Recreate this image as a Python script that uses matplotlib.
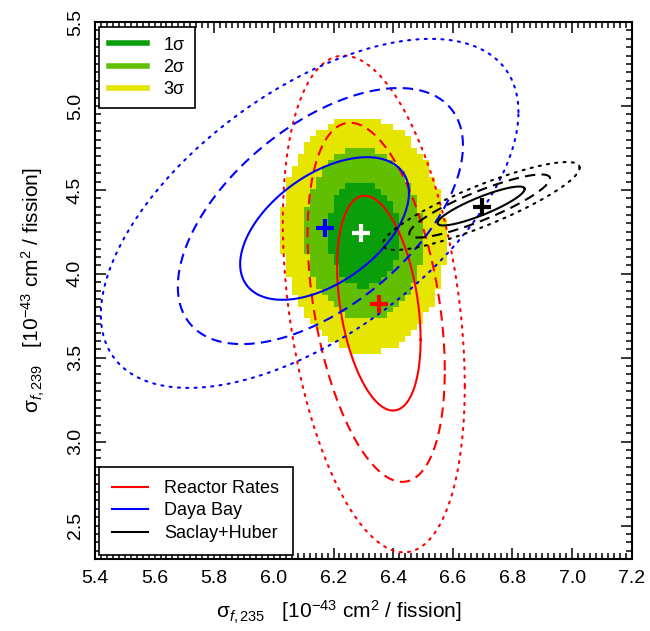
import numpy as np
import matplotlib as mpl
mpl.use('Agg')
import matplotlib.pyplot as plt
from matplotlib.colors import ListedColormap
from matplotlib.lines import Line2D

plt.rcParams['font.family'] = ['Liberation Sans', 'DejaVu Sans']
plt.rcParams['mathtext.fontset'] = 'custom'
plt.rcParams['mathtext.rm'] = 'Liberation Sans'
plt.rcParams['mathtext.it'] = 'Liberation Sans:italic'

# global fit (filled regions): centre, widths, correlation
fit_center = (6.30, 4.235)
fit_sigma = (0.080, 0.205)
fit_rho = -0.05
dchi2_levels = [2.30, 6.18, 11.83]
fill_colors = ['#0A9F0A', '#62BE00', '#E5E500']
fill_labels = ['1σ', '2σ', '3σ']

# contours per experiment: 1σ, 2σ, 3σ -> (x centre, y centre, x half extent, y half extent, correlation)
red_cx = [6.352, 6.343, 6.335]
red_cy = [3.825, 3.830, 3.820]
red_rx = [0.140, 0.230, 0.305]
red_ry = [0.640, 1.070, 1.480]
red_rho = [-0.34, -0.38, -0.33]

blue_cx = [6.170, 6.156, 6.120]
blue_cy = [4.270, 4.344, 4.360]
blue_rx = [0.283, 0.478, 0.700]
blue_ry = [0.425, 0.763, 1.040]
blue_rho = [0.50, 0.55, 0.58]

black_cx = [6.695, 6.690, 6.695]
black_cy = [4.404, 4.404, 4.404]
black_rx = [0.146, 0.236, 0.330]
black_ry = [0.116, 0.188, 0.262]
black_rho = [0.87, 0.87, 0.87]

best_fits = {'white': (6.292, 4.243), 'blue': (6.171, 4.273),
             'red': (6.352, 3.820), 'black': (6.697, 4.398)}

exp_labels = ['Reactor Rates', 'Daya Bay', 'Saclay+Huber']
exp_colors = ['red', 'blue', 'black']


def ellipse(cx, cy, rx, ry, rho, n=400):
    t = np.linspace(0, 2 * np.pi, n)
    x = cx + rx * np.cos(t)
    y = cy + ry * (rho * np.cos(t) + np.sqrt(1 - rho ** 2) * np.sin(t))
    return x, y


fig = plt.figure(figsize=(6.5, 6.31), dpi=100)
ax = fig.add_axes([0.146, 0.114, 0.826, 0.851])

# pixelated global fit regions
xe = np.arange(5.80, 6.80001, 0.02)
ye = np.arange(3.00, 5.50001, 0.035)
xc = 0.5 * (xe[1:] + xe[:-1])
yc = 0.5 * (ye[1:] + ye[:-1])
X, Y = np.meshgrid(xc, yc)
u = (X - fit_center[0]) / fit_sigma[0]
v = (Y - fit_center[1]) / fit_sigma[1]
chi2 = (u ** 2 - 2 * fit_rho * u * v + v ** 2) / (1 - fit_rho ** 2)
level = np.digitize(chi2, dchi2_levels).astype(float)
level = np.ma.masked_where(level >= 3, level)
ax.pcolormesh(xe, ye, level, cmap=ListedColormap(fill_colors),
              vmin=-0.5, vmax=2.5, shading='flat', zorder=1)

styles = ['-', (0, (5, 3)), (0, (1, 3))]
groups = [(red_cx, red_cy, red_rx, red_ry, red_rho),
          (blue_cx, blue_cy, blue_rx, blue_ry, blue_rho),
          (black_cx, black_cy, black_rx, black_ry, black_rho)]
for color, g in zip(exp_colors, groups):
    for k in range(3):
        x, y = ellipse(g[0][k], g[1][k], g[2][k], g[3][k], g[4][k])
        ax.plot(x, y, color=color, lw=1.5, ls=styles[k], zorder=3,
                dash_capstyle='round' if k == 2 else 'butt')

for color, (bx, by) in best_fits.items():
    ax.plot(bx, by, marker='+', ms=13, mew=3, color=color, zorder=5)

ax.set_xlim(5.4, 7.2)
ax.set_ylim(2.3, 5.5)
xmaj = np.arange(5.4, 7.21, 0.2)
ymaj = np.arange(2.5, 5.51, 0.5)
ax.set_xticks(xmaj)
ax.set_xticks(np.arange(5.4, 7.21, 0.02), minor=True)
ax.set_yticks(ymaj)
ax.set_yticks(np.arange(2.3, 5.51, 0.05), minor=True)
ax.set_xticklabels(['%.1f' % v for v in xmaj])
ax.set_yticklabels(['%.1f' % v for v in ymaj], rotation=90, va='center')
ax.tick_params(which='both', direction='in', top=True, right=True,
               labelsize=14, width=1.1, color='black')
ax.tick_params(which='major', length=8, pad=8)
ax.tick_params(which='minor', length=4.5)
for s in ax.spines.values():
    s.set_linewidth(1.5)

ax.set_xlabel(r'σ$_{\mathit{f},\mathrm{235}}$   [10$^{-43}$ cm$^{2}$ / fission]',
              fontsize=15, labelpad=10)
ax.xaxis.set_label_coords(0.455, -0.075)
ax.set_ylabel(r'σ$_{\mathit{f},\mathrm{239}}$   [10$^{-43}$ cm$^{2}$ / fission]',
              fontsize=15, labelpad=14)

h1 = [Line2D([], [], color=c, lw=4) for c in fill_colors]
leg1 = ax.legend(h1, fill_labels, loc='upper left', fontsize=13,
                 frameon=True, fancybox=False, edgecolor='black',
                 handlelength=2.1, borderaxespad=0.25, borderpad=0.55,
                 labelspacing=0.3, handletextpad=0.9, framealpha=1)
leg1.get_frame().set_linewidth(1.2)
ax.add_artist(leg1)

h2 = [Line2D([], [], color=c, lw=1.5) for c in exp_colors]
leg2 = ax.legend(h2, exp_labels, loc='lower left', fontsize=13,
                 frameon=True, fancybox=False, edgecolor='black',
                 handlelength=2.0, borderaxespad=0.2, borderpad=0.75,
                 labelspacing=0.3, handletextpad=0.9, framealpha=1)
leg2.get_frame().set_linewidth(1.2)

fig.savefig('out.png', dpi=100)
